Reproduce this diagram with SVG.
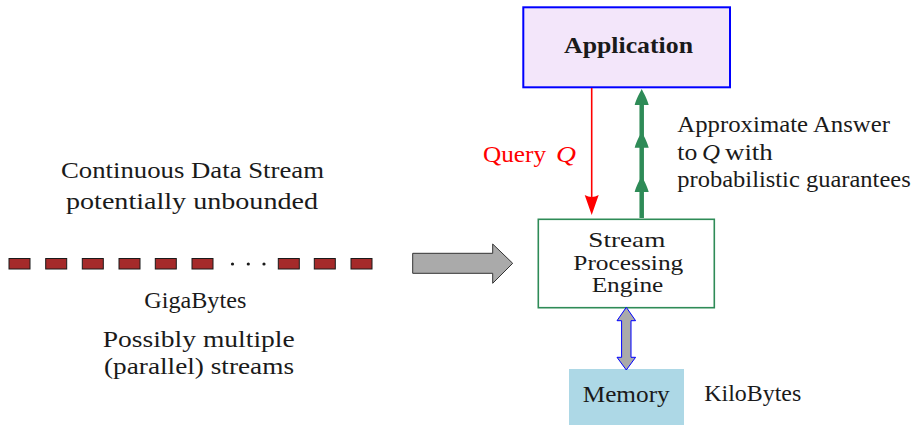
<svg xmlns="http://www.w3.org/2000/svg" width="916" height="425" viewBox="0 0 916 425">
  <defs>
    <path id="greenHead" d="M0,0 C1.8,3.5 5.5,10 7,16 L-7,16 C-5.5,10 -1.8,3.5 0,0 Z"/>
    <rect id="packet" width="21" height="10.5"/>
  </defs>

  <!-- Incoming data stream -->
  <g id="stream">
    <g fill="#a52a2a" stroke="#1a1a1a" stroke-width="1">
      <use href="#packet" x="9" y="258.5"/>
      <use href="#packet" x="45.7" y="258.5"/>
      <use href="#packet" x="82.3" y="258.5"/>
      <use href="#packet" x="119" y="258.5"/>
      <use href="#packet" x="155.3" y="258.5"/>
      <use href="#packet" x="192" y="258.5"/>
      <use href="#packet" x="278.3" y="258.5"/>
      <use href="#packet" x="314.3" y="258.5"/>
      <use href="#packet" x="351" y="258.5"/>
    </g>
    <g fill="#1a1a1a">
      <circle cx="232.5" cy="264" r="1.6"/>
      <circle cx="248.3" cy="264" r="1.6"/>
      <circle cx="264" cy="264" r="1.6"/>
    </g>
  </g>

  <g id="stream-labels" font-family="Liberation Serif" font-size="23" fill="#1a1a1a">
    <text x="61" y="178.3" textLength="263" lengthAdjust="spacingAndGlyphs">Continuous Data Stream</text>
    <text x="66" y="209.3" textLength="252" lengthAdjust="spacingAndGlyphs">potentially unbounded</text>
    <text x="144.3" y="308.3" textLength="102" lengthAdjust="spacingAndGlyphs">GigaBytes</text>
    <text x="102.7" y="346.7" textLength="192" lengthAdjust="spacingAndGlyphs">Possibly multiple</text>
    <text x="104" y="374.3" textLength="190" lengthAdjust="spacingAndGlyphs">(parallel) streams</text>
  </g>

  <!-- Application -->
  <g id="application">
    <rect x="523.3" y="7.3" width="206.7" height="80" fill="#f3e6fa" stroke="#0000ff" stroke-width="2"/>
    <text font-family="Liberation Serif" font-size="23" font-weight="bold" fill="#1a1a1a" x="564" y="53.3" textLength="129" lengthAdjust="spacingAndGlyphs">Application</text>
  </g>

  <!-- Stream processing engine -->
  <g id="engine">
    <rect x="538.3" y="219.3" width="176" height="88.4" fill="#ffffff" stroke="#2e8b57" stroke-width="1.6"/>
    <g font-family="Liberation Serif" font-size="21.5" fill="#1a1a1a">
      <text x="588.3" y="247.3" textLength="77" lengthAdjust="spacingAndGlyphs">Stream</text>
      <text x="573.3" y="269.5" textLength="110" lengthAdjust="spacingAndGlyphs">Processing</text>
      <text x="591.7" y="291.7" textLength="71.6" lengthAdjust="spacingAndGlyphs">Engine</text>
    </g>
  </g>

  <!-- Memory -->
  <g id="memory">
    <rect x="569" y="369" width="115" height="56" fill="#add8e6"/>
    <text font-family="Liberation Serif" font-size="23" fill="#1a1a1a" x="582.7" y="402" textLength="87" lengthAdjust="spacingAndGlyphs">Memory</text>
  </g>
  <text font-family="Liberation Serif" font-size="23" fill="#1a1a1a" x="704.3" y="400.7" textLength="97" lengthAdjust="spacingAndGlyphs">KiloBytes</text>

  <!-- Connectors -->
  <g id="connectors">
    <!-- stream into engine -->
    <polygon points="412.7,253.3 492.7,253.3 492.7,244 512.7,263.3 492.7,283.3 492.7,273.3 412.7,273.3" fill="#aaaaaa" stroke="#333333" stroke-width="1"/>

    <!-- query -->
    <line x1="591.7" y1="88" x2="591.7" y2="200" stroke="#ff0000" stroke-width="1.6"/>
    <path d="M591.7,215 L584.7,195 Q591.7,199 598.7,195 Z" fill="#ff0000"/>

    <!-- approximate answer -->
    <line x1="641.7" y1="218" x2="641.7" y2="100" stroke="#2e8b57" stroke-width="4.5"/>
    <g fill="#2e8b57">
      <use href="#greenHead" x="641.7" y="89"/>
      <use href="#greenHead" x="641.7" y="131.7"/>
      <use href="#greenHead" x="641.7" y="176"/>
    </g>

    <!-- engine <-> memory -->
    <polygon points="626.3,307.3 635.6,320.7 631,320.7 631,357.3 635.6,357.3 626.3,370 617,357.3 621.6,357.3 621.6,320.7 617,320.7" fill="#aaaaaa" stroke="#0000ff" stroke-width="1"/>
  </g>

  <g id="connector-labels" font-family="Liberation Serif" font-size="23">
    <g fill="#ff0000">
      <text x="483" y="161.7" textLength="63" lengthAdjust="spacingAndGlyphs">Query</text>
      <text font-style="italic" x="556" y="161.7" textLength="20" lengthAdjust="spacingAndGlyphs">Q</text>
    </g>
    <g fill="#1a1a1a">
      <text x="677.3" y="132.3" textLength="212.7" lengthAdjust="spacingAndGlyphs">Approximate Answer</text>
      <text x="677.3" y="160" textLength="20" lengthAdjust="spacingAndGlyphs">to</text>
      <text font-style="italic" x="702" y="160" textLength="18" lengthAdjust="spacingAndGlyphs">Q</text>
      <text x="725" y="160" textLength="47.7" lengthAdjust="spacingAndGlyphs">with</text>
      <text x="677.3" y="187.3" textLength="233.4" lengthAdjust="spacingAndGlyphs">probabilistic guarantees</text>
    </g>
  </g>
</svg>
